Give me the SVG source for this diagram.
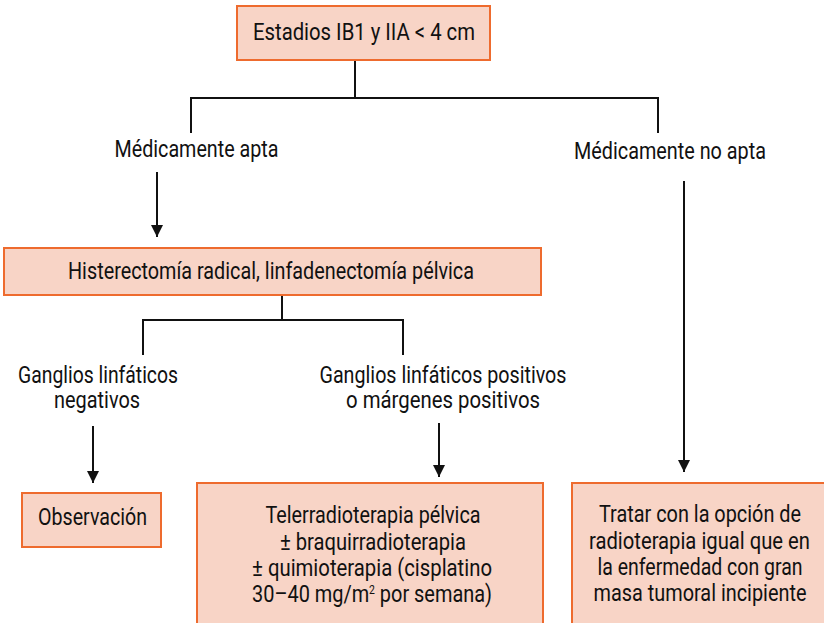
<svg xmlns="http://www.w3.org/2000/svg" width="824" height="623" viewBox="0 0 824 623">
<defs>
<style>
.box{fill:#f8d4c6;stroke:#ee6b2e;stroke-width:2}
.t{font-family:"Roboto","Liberation Sans",sans-serif;font-size:23px;fill:#111;text-anchor:middle}
.ln{stroke:#111;stroke-width:2;fill:none}
</style>
<marker id="ah" markerWidth="12" markerHeight="12" refX="12" refY="6" orient="auto" markerUnits="userSpaceOnUse">
<path d="M0,0 L12,6 L0,12 Z" fill="#111"/>
</marker>
</defs>
<rect width="824" height="623" fill="#fff"/>
<g id="connectors">
<path class="ln" d="M355,60 V98 M191,133 V98 H658 V133"/>
<path class="ln" d="M157,172 V237" marker-end="url(#ah)"/>
<path class="ln" d="M684,181 V472" marker-end="url(#ah)"/>
<path class="ln" d="M282,295 V320 M143,355 V320 H403 V355"/>
<path class="ln" d="M93,426 V483" marker-end="url(#ah)"/>
<path class="ln" d="M439,423 V477" marker-end="url(#ah)"/>
</g>
<g id="n-estadios">
<rect class="box" x="237" y="6" width="253" height="54"/>
<text class="t" x="364" y="39.5" textLength="222" lengthAdjust="spacingAndGlyphs">Estadios IB1 y IIA &lt; 4 cm</text>
</g>
<g id="l-apta"><text class="t" x="196.5" y="157" textLength="164" lengthAdjust="spacingAndGlyphs">Médicamente apta</text></g>
<g id="l-noapta"><text class="t" x="670" y="159" textLength="192" lengthAdjust="spacingAndGlyphs">Médicamente no apta</text></g>
<g id="n-histerectomia">
<rect class="box" x="4" y="248" width="537" height="47"/>
<text class="t" x="271" y="279" textLength="406" lengthAdjust="spacingAndGlyphs">Histerectomía radical, linfadenectomía pélvica</text>
</g>
<g id="l-negativos">
<text class="t" x="98" y="383" textLength="160" lengthAdjust="spacingAndGlyphs">Ganglios linfáticos</text>
<text class="t" x="97" y="408" textLength="86" lengthAdjust="spacingAndGlyphs">negativos</text>
</g>
<g id="l-positivos">
<text class="t" x="443" y="383" textLength="247" lengthAdjust="spacingAndGlyphs">Ganglios linfáticos positivos</text>
<text class="t" x="443" y="408" textLength="194" lengthAdjust="spacingAndGlyphs">o márgenes positivos</text>
</g>
<g id="n-observacion">
<rect class="box" x="22" y="493" width="139" height="54"/>
<text class="t" x="92.5" y="525" textLength="109" lengthAdjust="spacingAndGlyphs">Observación</text>
</g>
<g id="n-telerradioterapia">
<rect class="box" x="197" y="483" width="346" height="150"/>
<text class="t" x="373" y="523" textLength="215" lengthAdjust="spacingAndGlyphs">Telerradioterapia pélvica</text>
<text class="t" x="373" y="549.5" textLength="186" lengthAdjust="spacingAndGlyphs">± braquirradioterapia</text>
<text class="t" x="372" y="576" textLength="240" lengthAdjust="spacingAndGlyphs">± quimioterapia (cisplatino</text>
<text class="t" x="372" y="602" textLength="240" lengthAdjust="spacingAndGlyphs">30–40 mg/m<tspan font-size="12" dy="-8">2</tspan><tspan dy="8"> por semana)</tspan></text>
</g>
<g id="n-tratar">
<rect class="box" x="572" y="483" width="262" height="150"/>
<text class="t" x="700" y="522" textLength="202" lengthAdjust="spacingAndGlyphs">Tratar con la opción de</text>
<text class="t" x="699.5" y="548.5" textLength="221" lengthAdjust="spacingAndGlyphs">radioterapia igual que en</text>
<text class="t" x="700" y="575" textLength="205" lengthAdjust="spacingAndGlyphs">la enfermedad con gran</text>
<text class="t" x="700" y="601" textLength="213" lengthAdjust="spacingAndGlyphs">masa tumoral incipiente</text>
</g>
</svg>
